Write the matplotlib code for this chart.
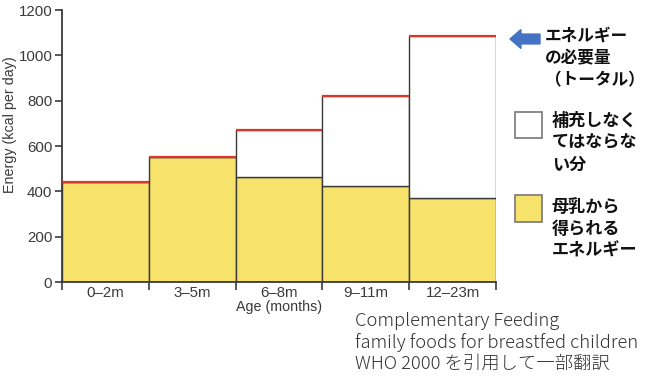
import matplotlib
matplotlib.use("Agg")
import matplotlib.pyplot as plt
from matplotlib.patches import FancyArrow, Rectangle

categories = ["0–2m", "3–5m", "6–8m", "9–11m", "12–23m"]
total_need = [440, 550, 672, 822, 1085]
breast_milk = [440, 550, 462, 423, 372]
yticks = [0, 200, 400, 600, 800, 1000, 1200]

YELLOW = "#F7E36B"
RED = "#D8382C"
EDGE = "#3a3a3a"
TXT = "#3a3a3a"

fig = plt.figure(figsize=(6.45, 3.79), dpi=100)
ax = fig.add_axes([62/645, 1-282/379, (496-62)/645, (282-10)/379])

x = list(range(len(categories)))
gap = [t - b for t, b in zip(total_need, breast_milk)]
ax.bar(x, breast_milk, width=1, align="edge", color=YELLOW, edgecolor=EDGE, linewidth=1.0, zorder=2)
ax.bar(x, gap, bottom=breast_milk, width=1, align="edge", color="white", edgecolor=EDGE, linewidth=1.0, zorder=2)
ax.hlines(total_need, [i for i in x], [i + 1 for i in x], colors=RED, linewidth=1.6, zorder=3)

ax.set_xlim(0, len(categories))
ax.set_ylim(0, 1200)
ax.set_yticks(yticks)
ax.set_yticklabels([str(v) for v in yticks], fontsize=10.8, color=TXT, family="Liberation Sans")
ax.set_xticks([i + 0.5 for i in x])
ax.set_xticklabels(categories, fontsize=10.8, color=TXT, family="Liberation Sans")
ax.set_xticks(list(range(len(categories) + 1)), minor=True)
ax.tick_params(axis="x", which="major", length=0, pad=3)
ax.tick_params(axis="x", which="minor", length=6, width=1.2, color=EDGE, direction="out")
ax.tick_params(axis="y", length=5, width=1.2, color=EDGE, direction="out", pad=2)
for s in ["top", "right"]:
    ax.spines[s].set_visible(False)
for s in ["left", "bottom"]:
    ax.spines[s].set_color(EDGE)
    ax.spines[s].set_linewidth(1.3)
ax.set_ylabel("Energy (kcal per day)", fontsize=10.3, color=TXT, family="Liberation Sans")
ax.yaxis.set_label_coords(-45/434, (282-125)/272)
ax.set_xlabel("Age (months)", fontsize=10.3, color=TXT, family="Liberation Sans", labelpad=0)

jp = ["Noto Sans CJK JP", "DejaVu Sans"]

def fx(px):
    return px / 645

def fy(py):
    return 1 - py / 379

# arrow
fig.patches.append(FancyArrow(fx(540), fy(39), fx(510) - fx(540), 0, width=0.026, head_width=0.05,
                              head_length=0.017, length_includes_head=True, color="#4472C4",
                              transform=fig.transFigure, figure=fig))
fig.text(fx(545), fy(27), "エネルギー\nの必要量\n（トータル）", family=jp, fontsize=12,
         fontweight="bold", va="top", ha="left", linespacing=1.3, color="#111111")

# legend boxes
fig.patches.append(Rectangle((fx(515), fy(138)), fx(542) - fx(515), fy(112) - fy(138),
                             facecolor="white", edgecolor="#777777", linewidth=1.2,
                             transform=fig.transFigure, figure=fig))
fig.text(fx(552), fy(112), "補充しなく\nてはならな\nい分", family=jp, fontsize=12.3,
         fontweight="bold", va="top", ha="left", linespacing=1.27, color="#111111")
fig.patches.append(Rectangle((fx(515), fy(222)), fx(542) - fx(515), fy(195) - fy(222),
                             facecolor=YELLOW, edgecolor="#777777", linewidth=1.2,
                             transform=fig.transFigure, figure=fig))
fig.text(fx(552), fy(198), "母乳から\n得られる\nエネルギー", family=jp, fontsize=12.3,
         fontweight="bold", va="top", ha="left", linespacing=1.27, color="#111111")

fig.text(fx(355), fy(312), "Complementary Feeding\nfamily foods for breastfed children\nWHO 2000 を引用して一部翻訳",
         family=jp, fontsize=13.2, fontweight="light", va="top", ha="left", linespacing=1.2, color="#333333")

fig.savefig("out.png", dpi=100)
